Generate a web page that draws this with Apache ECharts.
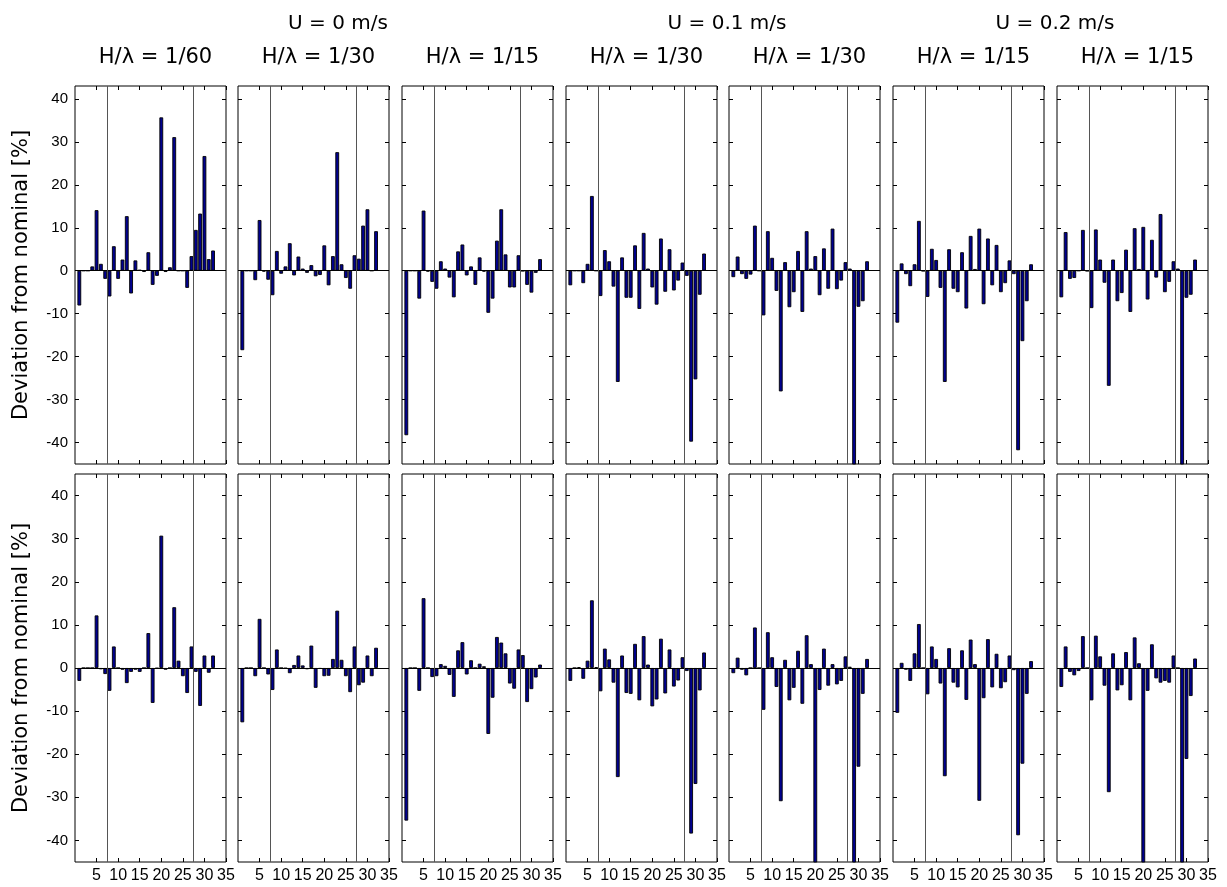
<!DOCTYPE html>
<html>
<head>
<meta charset="utf-8">
<script src="https://cdn.jsdelivr.net/npm/echarts@6/dist/echarts.min.js"></script>
<style>
html,body{margin:0;padding:0;background:#fff;}
#chart{width:1227px;height:887px;}
</style>
</head>
<body>
<div id="chart"></div>
<script>
// ---------- DATA ----------
const probes = [1,2,3,4,5,6,7,8,9,10,11,12,13,14,15,16,17,18,19,20,21,22,23,24,25,26,27,28,29,30,31,32];

const panelTitles = ['H/\u03bb = 1/60','H/\u03bb = 1/30','H/\u03bb = 1/15','H/\u03bb = 1/30','H/\u03bb = 1/30','H/\u03bb = 1/15','H/\u03bb = 1/15'];
const currentTitles = ['U = 0 m/s','U = 0.1 m/s','U = 0.2 m/s'];
const yTicks = [-40,-30,-20,-10,0,10,20,30,40];
const xTicks = [5,10,15,20,25,30,35];
const separators = [7.5, 27.5];
const yLabel = 'Deviation from nominal [%]';

// top row
const top1 = [-8.1,0,0,1.0,14.1,1.6,-1.9,-6.0,5.7,-1.9,2.6,12.7,-5.3,2.4,0.2,-0.3,4.3,-3.3,-1.2,35.7,-0.3,0.8,31.1,0,0,-4.0,3.4,9.5,13.3,26.7,2.7,4.7];
const top2 = [-18.5,0,0,-2.2,11.8,-0.2,-2.1,-5.7,4.6,-0.7,1.0,6.4,-1.1,3.3,0.5,-0.5,1.3,-1.3,-1.0,5.9,-3.4,3.4,27.6,1.5,-1.7,-4.2,3.6,2.8,10.5,14.3,0,9.2];
const top3 = [-38.3,0,0,-6.5,14.0,-0.2,-2.6,-4.2,2.2,0.5,-1.6,-6.2,4.5,6.1,-1.1,1.0,-3.3,3.1,-0.2,-9.8,-6.5,7.0,14.3,3.8,-3.9,-3.9,3.6,-0.1,-3.3,-5.1,-0.5,2.7];
const top4 = [-3.4,0,0,-2.9,1.6,17.4,0,-5.9,4.8,2.2,-3.7,-25.9,3.1,-6.3,-6.3,5.9,-8.9,8.8,0.5,-3.9,-7.9,7.5,-4.9,5.0,-4.6,-2.3,1.9,-1.2,-39.8,-25.3,-5.6,4.0];
const top5 = [-1.5,3.3,-0.8,-1.9,-0.9,10.5,0,-10.4,9.2,3.0,-4.7,-28.1,2.0,-8.5,-5.0,4.6,-9.6,9.2,0.5,3.4,-5.7,5.2,-4.2,9.8,-4.3,-2.3,2.0,0.5,-47,-8.4,-7.1,2.2];
const top6 = [-12.1,1.7,-0.8,-3.6,1.5,11.6,-0.1,-6.1,5.1,2.5,-4.0,-25.9,5.0,-4.2,-5.0,4.3,-8.8,8.1,0.4,9.8,-7.8,7.5,-3.4,6.0,-5.0,-2.9,2.4,-0.8,-41.8,-16.4,-7.1,1.5];
const top7 = [-6.2,9.0,-1.9,-1.7,0,9.5,-0.1,-8.7,9.6,2.6,-2.8,-26.8,2.6,-7.1,-5.2,4.9,-9.6,9.9,0.4,10.2,-6.7,7.2,-1.6,13.2,-5.0,-2.6,2.2,0.5,-47,-6.3,-5.6,2.6];

// bottom row
const bot1 = [-3.0,0,0,0,12.2,-0.3,-1.4,-5.3,5.0,0,-0.4,-3.5,-0.9,-0.4,-0.9,0,8.1,-8.1,-0.1,30.7,-0.4,0,14.1,1.7,-1.9,-5.8,5.0,-0.9,-8.8,2.9,-1.1,2.9];
const bot2 = [-12.6,0,0,-1.9,11.4,0,-1.5,-5.1,4.3,0,-0.1,-1.2,0.7,2.9,0.6,-0.3,5.2,-4.6,-0.2,-1.9,-1.8,2.1,13.3,1.9,-1.9,-5.6,5.0,-4.0,-3.4,2.9,-1.9,4.7];
const bot3 = [-35.4,0,0,-5.3,16.2,0,-2.1,-1.9,0.9,0.5,-1.6,-6.7,4.1,6.0,-1.5,1.8,0,1.0,0.4,-15.3,-6.9,7.2,5.9,3.4,-3.6,-4.8,4.3,3.0,-7.9,-4.9,-2.2,0.8];
const bot4 = [-3.0,0,0.2,-2.5,1.7,15.7,0.2,-5.4,4.5,2.0,-3.4,-25.3,2.9,-5.8,-6.0,5.6,-7.5,7.4,0.8,-8.9,-7.3,6.8,-5.9,4.3,-4.3,-2.9,2.5,-0.7,-38.4,-26.9,-5.2,3.6];
const bot5 = [-1.2,2.4,-0.4,-1.7,0,9.4,0,-9.7,8.3,2.5,-4.4,-30.9,1.9,-7.5,-4.6,4.0,-8.3,7.6,0.9,-47,-5.1,4.5,-4.1,0.9,-3.8,-3.0,2.7,0.3,-47,-22.9,-6.0,2.1];
const bot6 = [-10.4,1.2,-0.4,-3.0,3.4,10.2,0,-6.1,5.0,2.1,-3.6,-25.1,4.6,-3.4,-4.5,4.1,-7.4,6.6,0.9,-30.8,-7.0,6.7,-4.5,3.3,-4.7,-3.3,2.9,-0.5,-38.8,-22.2,-6.0,1.6];
const bot7 = [-4.4,5.0,-0.9,-1.7,-0.7,7.4,0,-7.5,7.5,2.7,-4.1,-28.8,3.4,-5.2,-4.0,3.7,-7.5,7.1,1.1,-47,-5.3,5.5,-2.4,-3.4,-3.0,-3.4,2.9,0,-47,-21.1,-6.5,2.2];

const topRow = [top1, top2, top3, top4, top5, top6, top7];
const bottomRow = [bot1, bot2, bot3, bot4, bot5, bot6, bot7];

// ---------- LAYOUT ----------
const panelLeft = [75, 238, 402, 566, 729, 893, 1057];
const panelWidth = 151;
const rows = [
  {top: 86, height: 378, ymin: -45, ymax: 43, data: topRow},
  {top: 474, height: 388, ymin: -45, ymax: 45, data: bottomRow}
];
const xMin = 0, xMax = 35;
const FONT = 'Liberation Sans, Arial, Helvetica, sans-serif';
const TFONT = 'DejaVu Sans, sans-serif';
const barColor = '#00008F';

const grids = [], xAxes = [], yAxes = [], series = [];
rows.forEach((row, r) => {
  panelLeft.forEach((left, c) => {
    const gi = grids.length;
    grids.push({left: left, top: row.top, width: panelWidth, height: row.height,
      show: true, borderColor: '#000', borderWidth: 1, backgroundColor: '#fff', containLabel: false});
    const isBottom = r === rows.length - 1;
    xAxes.push({type: 'value', gridIndex: gi, min: xMin, max: xMax, position: 'bottom',
      axisLine: {show: false, onZero: false},
      axisTick: {show: true, inside: true, length: 4, lineStyle: {color: '#000'}, customValues: xTicks},
      axisLabel: {show: isBottom, customValues: xTicks, color: '#000', fontSize: 16, fontFamily: FONT, margin: 6},
      splitLine: {show: false}});
    xAxes.push({type: 'value', gridIndex: gi, min: xMin, max: xMax, position: 'top',
      axisLine: {show: false, onZero: false},
      axisTick: {show: true, inside: true, length: 4, lineStyle: {color: '#000'}, customValues: xTicks},
      axisLabel: {show: false}, splitLine: {show: false}});
    const yl = {type: 'value', gridIndex: gi, min: row.ymin, max: row.ymax, position: 'left',
      axisLine: {show: false, onZero: false},
      axisTick: {show: true, inside: true, length: 4, lineStyle: {color: '#000'}, customValues: yTicks},
      axisLabel: {show: c === 0, customValues: yTicks, color: '#000', fontSize: 15, fontFamily: FONT, margin: 7},
      splitLine: {show: false}};
    if (c === 0) {
      yl.name = yLabel;
      yl.nameLocation = 'middle';
      yl.nameRotate = 90;
      yl.nameGap = 43;
      yl.nameTextStyle = {fontSize: 21, color: '#000', fontFamily: TFONT};
    }
    yAxes.push(yl);
    yAxes.push({type: 'value', gridIndex: gi, min: row.ymin, max: row.ymax, position: 'right',
      axisLine: {show: false, onZero: false},
      axisTick: {show: true, inside: true, length: 4, lineStyle: {color: '#000'}, customValues: yTicks},
      axisLabel: {show: false}, splitLine: {show: false}});

    const vals = row.data[c];
    series.push({
      type: 'bar', xAxisIndex: gi * 2, yAxisIndex: gi * 2,
      data: probes.map((p, i) => [p, vals[i]]),
      barWidth: 3.8,
      itemStyle: {color: barColor, borderColor: '#000', borderWidth: 0.9},
      clip: true, silent: true,
      markLine: {
        silent: true, symbol: 'none', label: {show: false}, animation: false,
        data: [
          {yAxis: 0, lineStyle: {color: '#000', width: 1, type: 'solid'}}
        ].concat(separators.map(s => ({xAxis: s, lineStyle: {color: '#555', width: 1, type: 'solid'}})))
      }
    });
  });
});

const titles = [];
panelTitles.forEach((t, c) => {
  titles.push({text: t, left: panelLeft[c] + panelWidth / 2, top: 42, textAlign: 'center',
    textStyle: {fontSize: 21, fontWeight: 'normal', color: '#000', fontFamily: TFONT}});
});
const currentCenters = [333, 722, 1050];
currentTitles.forEach((t, k) => {
  titles.push({text: t, left: currentCenters[k], top: 9, textAlign: 'center',
    textStyle: {fontSize: 20, fontWeight: 'normal', color: '#000', fontFamily: TFONT}});
});

const chart = echarts.init(document.getElementById('chart'), null, {renderer: 'canvas'});
chart.setOption({
  animation: false,
  backgroundColor: '#fff',
  title: titles,
  grid: grids,
  xAxis: xAxes,
  yAxis: yAxes,
  series: series
});
</script>
</body>
</html>
